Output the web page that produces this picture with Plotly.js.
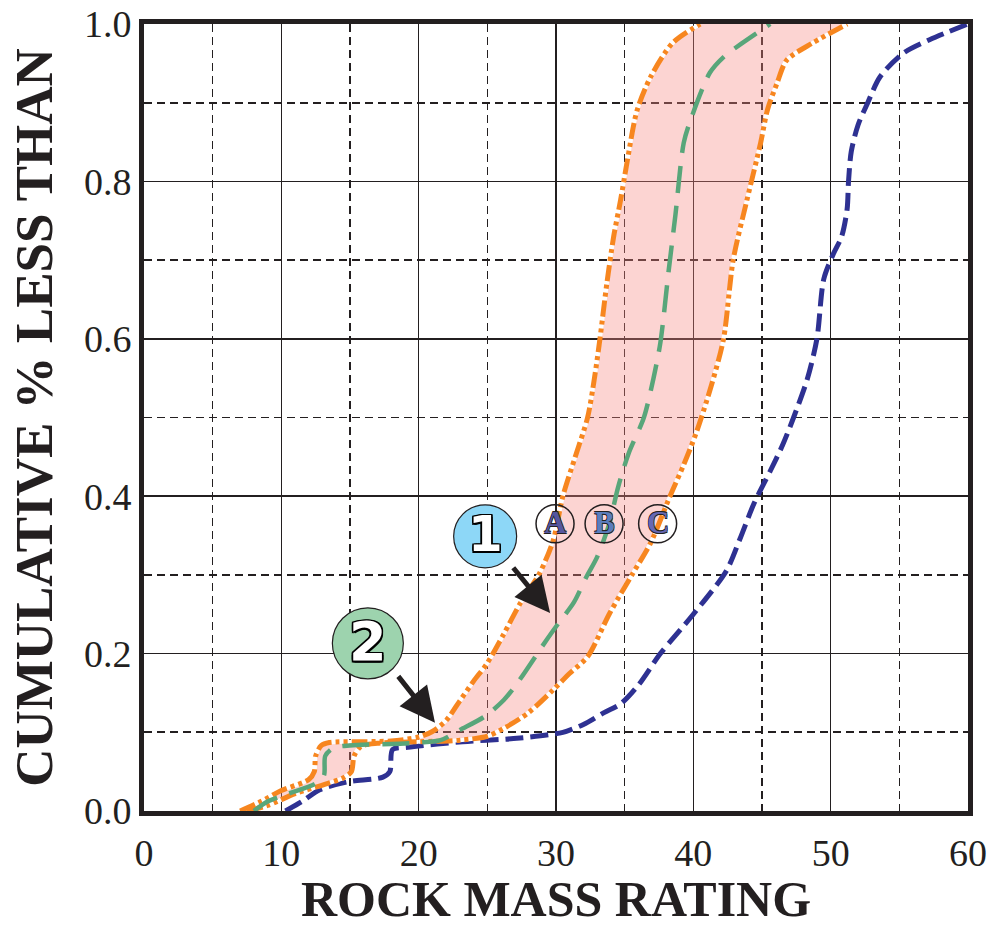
<!DOCTYPE html>
<html>
<head>
<meta charset="utf-8">
<script src="https://cdn.plot.ly/plotly-3.0.1.min.js"></script>
<style>html,body{margin:0;padding:0;background:#fff;}#chart{width:989px;height:927px;}</style>
</head>
<body>
<div id="chart"></div>
<script>
// Curve A (upper/left orange boundary)
const aX = [7.0, 8.5, 10, 12, 12.4, 12.5, 12.9, 13.5, 16, 18, 20, 21, 22, 23, 24, 25, 26.2, 27.4, 28.8, 29.8, 30.5, 31.4, 32.3, 32.8, 33.2, 33.7, 34.2, 34.7, 35.2, 35.9, 36.9, 38.5, 40.5];
const aY = [0, 0.012, 0.026, 0.04, 0.05, 0.07, 0.083, 0.087, 0.088, 0.089, 0.094, 0.101, 0.115, 0.14, 0.165, 0.188, 0.225, 0.264, 0.302, 0.344, 0.40, 0.45, 0.50, 0.55, 0.60, 0.67, 0.73, 0.776, 0.827, 0.89, 0.933, 0.976, 1.0];
// Curve C (lower/right orange boundary)
const cX = [7.5, 9, 11, 13, 14.5, 15.1, 15.3, 15.8, 17, 20, 23, 25, 26.2, 28, 29.8, 31, 32.3, 33.9, 35.6, 36.9, 38.3, 39.3, 40.2, 41.3, 42.2, 42.9, 43.9, 44.9, 45.4, 46.1, 46.8, 48.7, 51.2];
const cY = [0, 0.007, 0.022, 0.033, 0.042, 0.05, 0.07, 0.082, 0.086, 0.088, 0.09, 0.095, 0.105, 0.125, 0.154, 0.175, 0.196, 0.251, 0.302, 0.341, 0.40, 0.44, 0.48, 0.54, 0.60, 0.70, 0.776, 0.849, 0.891, 0.925, 0.954, 0.976, 1.0];
// Curve B (green, middle)
const bX = [8, 9, 10.5, 12.5, 13.1, 13.2, 13.8, 15.5, 18, 20, 21.6, 23, 24.8, 26.2, 27.2, 29.3, 30.2, 31.3, 32.2, 33, 33.9, 34.5, 35.3, 36.4, 37.1, 37.6, 38.2, 38.7, 39.3, 39.8, 41.2, 42.2, 43.5, 45.6];
const bY = [0, 0.012, 0.022, 0.035, 0.045, 0.07, 0.08, 0.084, 0.085, 0.087, 0.09, 0.103, 0.12, 0.141, 0.163, 0.217, 0.239, 0.265, 0.297, 0.323, 0.366, 0.41, 0.455, 0.50, 0.55, 0.595, 0.686, 0.758, 0.849, 0.878, 0.938, 0.958, 0.975, 1.0];
// Blue curve
const dX = [10.3, 11.5, 12.8, 14.8, 17.4, 17.9, 18.1, 19.2, 23.2, 26.9, 29.5, 30.5, 32, 33.5, 34.7, 36, 37.6, 40, 42.4, 43.4, 44.4, 45.6, 46.5, 47.3, 48.3, 49.0, 49.5, 50.2, 50.8, 51.2, 51.3, 51.5, 52.0, 52.7, 53.6, 55.3, 57.2, 60];
const dY = [0, 0.012, 0.027, 0.037, 0.043, 0.05, 0.078, 0.081, 0.088, 0.092, 0.097, 0.1, 0.11, 0.125, 0.136, 0.16, 0.2, 0.25, 0.305, 0.346, 0.39, 0.432, 0.465, 0.50, 0.549, 0.60, 0.676, 0.708, 0.73, 0.765, 0.80, 0.838, 0.872, 0.9, 0.933, 0.963, 0.98, 1.0];

const xTicks = [0, 10, 20, 30, 40, 50, 60];
const yTicks = [0, 0.2, 0.4, 0.6, 0.8, 1.0];
const yTickText = ['0.0', '0.2', '0.4', '0.6', '0.8', '1.0'];
const xTitle = 'ROCK MASS RATING';
const yTitle = 'CUMULATIVE % LESS THAN';
const letterLabels = ['A', 'B', 'C'];
const letterX = [29.93, 33.5, 37.4];
const letterY = 0.365;
const letterColors = ['#55579f', '#5b7dbd', '#6668b3'];

const ORANGE = '#f7861f';
const GREEN = '#58a67a';
const BLUE = '#2e3192';

// fill polygon between A and C
const fillX = aX.concat([60, 60]).concat(cX.slice().reverse());
const fillY = aY.concat([1.0, 1.0]).concat(cY.slice().reverse());

const sm = 0.8;
const traces = [
  {x: fillX, y: fillY, mode: 'lines', fill: 'toself', fillcolor: 'rgba(246,135,129,0.36)',
   line: {width: 0, shape: 'spline', smoothing: sm}, hoverinfo: 'skip', showlegend: false},
  {x: dX, y: dY, mode: 'lines', line: {color: BLUE, width: 5, dash: '18px,7px', shape: 'spline', smoothing: sm}, showlegend: false},
  {x: aX, y: aY, mode: 'lines', line: {color: '#ffffff', width: 4, shape: 'spline', smoothing: sm}, showlegend: false},
  {x: cX, y: cY, mode: 'lines', line: {color: '#ffffff', width: 4, shape: 'spline', smoothing: sm}, showlegend: false},
  {x: aX, y: aY, mode: 'lines', line: {color: ORANGE, width: 5, dash: '16px,4px,4px,4px,4px,4px', shape: 'spline', smoothing: sm}, showlegend: false},
  {x: cX, y: cY, mode: 'lines', line: {color: ORANGE, width: 5, dash: '16px,4px,4px,4px,4px,4px', shape: 'spline', smoothing: sm}, showlegend: false},
  {x: bX, y: bY, mode: 'lines', line: {color: GREEN, width: 4.5, dash: '27px,13px', shape: 'spline', smoothing: sm}, showlegend: false}
];

const outline = '-1.5px -1.5px 0 #000, 1.5px -1.5px 0 #000, -1.5px 1.5px 0 #000, 1.5px 1.5px 0 #000, 0 1.5px 0 #000, 0 -1.5px 0 #000, 1.5px 0 0 #000, -1.5px 0 0 #000';
const thin = '-0.6px -0.6px 0 #222, 0.6px -0.6px 0 #222, -0.6px 0.6px 0 #222, 0.6px 0.6px 0 #222';

const shapes = [
  {type: 'circle', xref: 'x', yref: 'y', xsizemode: 'pixel', ysizemode: 'pixel', xanchor: 24.84, yanchor: 0.349,
   x0: -31.5, x1: 31.5, y0: -31.5, y1: 31.5, fillcolor: '#8dd7f7', line: {color: '#231f20', width: 1.2}, layer: 'above'},
  {type: 'circle', xref: 'x', yref: 'y', xsizemode: 'pixel', ysizemode: 'pixel', xanchor: 16.3, yanchor: 0.213,
   x0: -35.5, x1: 35.5, y0: -35.5, y1: 35.5, fillcolor: '#9dd3ae', line: {color: '#231f20', width: 1.2}, layer: 'above'}
];
letterLabels.forEach((l, i) => {
  shapes.push({type: 'circle', xref: 'x', yref: 'y', xsizemode: 'pixel', ysizemode: 'pixel', xanchor: letterX[i], yanchor: letterY,
    x0: -19, x1: 19, y0: -19, y1: 19, fillcolor: 'rgba(0,0,0,0)', line: {color: '#231f20', width: 1.5}, layer: 'above'});
});

const annotations = [
  {x: 24.84, y: 0.349, xref: 'x', yref: 'y', text: '<b>1</b>', showarrow: false, yshift: 2,
   font: {family: 'DejaVu Sans', size: 50, color: '#ffffff', shadow: outline}},
  {x: 16.3, y: 0.213, xref: 'x', yref: 'y', text: '<b>2</b>', showarrow: false, yshift: 2,
   font: {family: 'DejaVu Sans', size: 54, color: '#ffffff', shadow: outline}},
  {x: 29.57, y: 0.2516, ax: 26.8, ay: 0.311, xref: 'x', yref: 'y', axref: 'x', ayref: 'y', text: '', showarrow: true,
   arrowhead: 2, arrowsize: 1.4, arrowwidth: 5, arrowcolor: '#231f20'},
  {x: 21.19, y: 0.112, ax: 18.43, ay: 0.173, xref: 'x', yref: 'y', axref: 'x', ayref: 'y', text: '', showarrow: true,
   arrowhead: 2, arrowsize: 1.4, arrowwidth: 5, arrowcolor: '#231f20'}
];
letterLabels.forEach((l, i) => {
  annotations.push({x: letterX[i], y: letterY, xref: 'x', yref: 'y', text: '<b>' + l + '</b>', showarrow: false, yshift: 1,
    font: {family: 'Liberation Serif, serif', size: 31, color: letterColors[i], shadow: thin}});
});

const layout = {
  width: 989, height: 927,
  margin: {l: 144, r: 21, t: 24, b: 116},
  paper_bgcolor: '#ffffff', plot_bgcolor: '#ffffff',
  showlegend: false,
  xaxis: {
    range: [0, 60], tickvals: xTicks, ticktext: xTicks.map(String), ticks: '', ticklabelstandoff: 4,
    showgrid: true, gridcolor: '#231f20', gridwidth: 1.6,
    minor: {dtick: 5, showgrid: true, gridcolor: '#231f20', gridwidth: 1.6, griddash: '8px,5px', ticks: ''},
    zeroline: false, showline: true, linecolor: '#231f20', linewidth: 5, mirror: true,
    tickfont: {family: 'Liberation Serif', size: 38, color: '#231f20'},
    title: {text: '<b>' + xTitle + '</b>', font: {family: 'Liberation Serif', size: 50, color: '#231f20'}, standoff: 30}
  },
  yaxis: {
    range: [0, 1], tickvals: yTicks, ticktext: yTickText, ticks: '',
    showgrid: true, gridcolor: '#231f20', gridwidth: 1.6,
    minor: {dtick: 0.1, showgrid: true, gridcolor: '#231f20', gridwidth: 1.6, griddash: '8px,5px', ticks: ''},
    zeroline: false, showline: true, linecolor: '#231f20', linewidth: 5, mirror: true,
    tickfont: {family: 'Liberation Serif', size: 38, color: '#231f20'},
    title: {text: '<b>' + yTitle + '</b>', font: {family: 'Liberation Serif', size: 53, color: '#231f20'}, standoff: 16}
  },
  shapes: shapes,
  annotations: annotations
};

Plotly.newPlot('chart', traces, layout, {displayModeBar: false, staticPlot: true});
</script>
</body>
</html>
